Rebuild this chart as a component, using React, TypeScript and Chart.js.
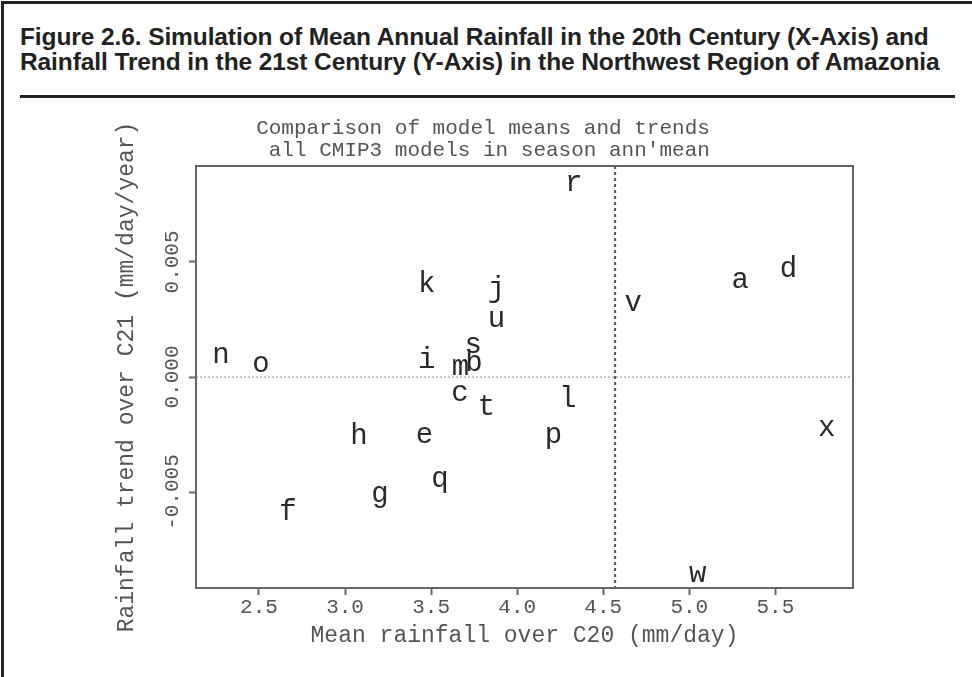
import React, { useEffect, useRef } from "react";
import { Chart, registerables } from "chart.js";

Chart.register(...registerables);

// ---- data ----
const models = ["a","b","c","d","e","f","g","h","i","j","k","l","m","n","o","p","q","r","s","t","u","v","w","x"];
const meanRainC20 = [5.295,3.749,3.667,5.576,3.461,2.668,3.203,3.081,3.474,3.880,3.474,4.294,3.671,2.279,2.512,4.210,3.551,4.329,3.745,3.822,3.880,4.674,5.049,5.798];
const trendC21 = [0.00422,0.0006,-0.00073,0.0047,-0.00255,-0.00587,-0.00509,-0.0026,0.00071,0.0038,0.00403,-0.00096,0.00042,0.00096,0.00057,-0.00252,-0.00446,0.00843,0.00136,-0.00132,0.00252,0.0032,-0.00857,-0.00223];
const refMeanX = 4.569;
const refTrendY = 0;
const xRange = [2.134, 5.951];
const yRange = [-0.00917, 0.00917];
const xTickStep = 0.5;
const yTickStep = 0.005;

const figTitle = [
  "Figure 2.6. Simulation of Mean Annual Rainfall in the 20th Century (X-Axis) and",
  "Rainfall Trend in the 21st Century (Y-Axis) in the Northwest Region of Amazonia",
];
const plotTitle = ["Comparison of model means and trends", " all CMIP3 models in season ann'mean"];
const xTitle = "Mean rainfall over C20 (mm/day)";
const yTitle = "Rainfall trend over C21 (mm/day/year)";

const MONO = "'Liberation Mono', 'DejaVu Sans Mono', monospace";

const overlay = {
  id: "overlay",
  beforeDatasetsDraw(chart: any) {
    const { ctx, chartArea, scales } = chart;
    const x = scales.x, y = scales.y;
    ctx.save();
    const y0 = y.getPixelForValue(refTrendY);
    ctx.strokeStyle = "#888";
    ctx.lineWidth = 1;
    ctx.setLineDash([2, 2]);
    ctx.beginPath();
    ctx.moveTo(chartArea.left, y0);
    ctx.lineTo(chartArea.right, y0);
    ctx.stroke();
    const xv = x.getPixelForValue(refMeanX);
    ctx.strokeStyle = "#555";
    ctx.lineWidth = 2;
    ctx.setLineDash([3, 3]);
    ctx.beginPath();
    ctx.moveTo(xv, chartArea.top);
    ctx.lineTo(xv, chartArea.bottom);
    ctx.stroke();
    ctx.restore();
  },
  afterDatasetsDraw(chart: any) {
    const { ctx, chartArea } = chart;
    ctx.save();
    const meta = chart.getDatasetMeta(0);
    ctx.fillStyle = "#2a2a2a";
    ctx.font = `29px ${MONO}`;
    ctx.textAlign = "center";
    ctx.textBaseline = "middle";
    meta.data.forEach((el: any, i: number) => {
      ctx.fillText(models[i], el.x, el.y);
    });
    // box
    ctx.strokeStyle = "#666";
    ctx.lineWidth = 2;
    ctx.setLineDash([]);
    ctx.strokeRect(chartArea.left, chartArea.top, chartArea.right - chartArea.left, chartArea.bottom - chartArea.top);
    // y tick labels (rotated)
    const y = chart.scales.y;
    ctx.fillStyle = "#555";
    ctx.font = `21px ${MONO}`;
    y.ticks.forEach((t: any) => {
      const py = y.getPixelForValue(t.value);
      ctx.save();
      ctx.translate(172, py);
      ctx.rotate(-Math.PI / 2);
      ctx.fillText(Number(t.value).toFixed(3), 0, 0);
      ctx.restore();
    });
    // plot title
    ctx.font = `21px ${MONO}`;
    ctx.fillText(plotTitle[0], 483, 128);
    ctx.fillText(plotTitle[1], 483, 150);
    ctx.restore();
  },
};

export default function App() {
  const ref = useRef<HTMLCanvasElement | null>(null);
  useEffect(() => {
    document.body.style.margin = "0";
    const canvas = ref.current!;
    const chart = new Chart(canvas, {
      type: "scatter",
      data: {
        datasets: [
          {
            data: meanRainC20.map((v, i) => ({ x: v, y: trendC21[i] })),
            pointRadius: 0,
            pointHoverRadius: 0,
          },
        ],
      },
      options: {
        responsive: false,
        animation: false,
        devicePixelRatio: 1,
        layout: { padding: { top: 166, right: 119, left: 0, bottom: 0 } },
        plugins: { legend: { display: false }, tooltip: { enabled: false }, title: { display: false } },
        scales: {
          x: {
            type: "linear",
            position: "bottom",
            min: xRange[0],
            max: xRange[1],
            afterFit: (s: any) => { s.height = 89; },
            grid: { display: true, drawOnChartArea: false, drawTicks: true, tickLength: 7, tickColor: "#666", tickWidth: 2 },
            border: { display: true, color: "#666", width: 2 },
            ticks: {
              stepSize: xTickStep,
              includeBounds: false,
              autoSkip: false,
              maxRotation: 0,
              padding: 0,
              color: "#555",
              font: { family: MONO, size: 21 },
              callback: (v: any) => Number(v).toFixed(1),
            },
            title: { display: true, text: xTitle, color: "#555", font: { family: MONO, size: 23 }, padding: { top: 0, bottom: 27 } },
          },
          y: {
            type: "linear",
            position: "left",
            min: yRange[0],
            max: yRange[1],
            afterFit: (s: any) => { s.width = 196; },
            grid: { display: true, drawOnChartArea: false, drawTicks: true, tickLength: 7, tickColor: "#666", tickWidth: 2 },
            border: { display: true, color: "#666", width: 2 },
            ticks: {
              stepSize: yTickStep,
              includeBounds: false,
              color: "rgba(0,0,0,0)",
              font: { family: MONO, size: 21 },
              callback: (v: any) => Number(v).toFixed(3),
            },
            title: { display: true, text: yTitle, color: "#555", font: { family: MONO, size: 23 }, padding: { top: 113, bottom: 0 } },
          },
        },
      },
      plugins: [overlay],
    });
    return () => chart.destroy();
  }, []);

  return (
    <div style={{ position: "relative", width: 972, height: 677, overflow: "hidden", background: "#fff" }}>
      <div style={{ position: "absolute", left: 1, top: 1, width: 1000, height: 700, borderTop: "3px solid #222", borderLeft: "3px solid #222", boxSizing: "border-box" }} />
      <div style={{ position: "absolute", left: 20, top: 24, fontFamily: "'Liberation Sans', Arial, sans-serif", fontWeight: 700, fontSize: 24.5, lineHeight: "25px", color: "#222", whiteSpace: "nowrap", letterSpacing: "-0.1px" }}>
        <div>{figTitle[0]}</div>
        <div>{figTitle[1]}</div>
      </div>
      <div style={{ position: "absolute", left: 20, top: 95, width: 935, height: 3, background: "#222" }} />
      <canvas ref={ref} width={972} height={677} style={{ position: "absolute", left: 0, top: 0, width: 972, height: 677 }} />
    </div>
  );
}
